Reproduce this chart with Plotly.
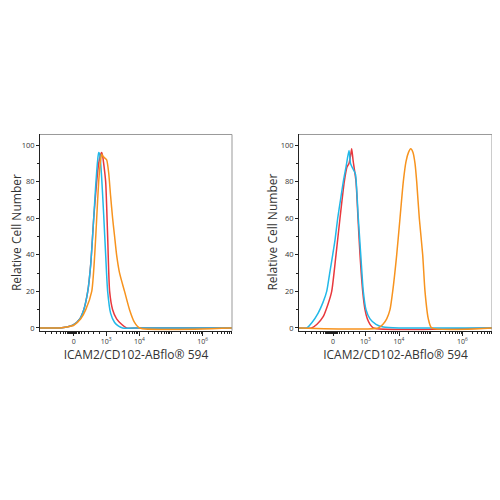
import plotly.graph_objects as go

# Display-space x coordinates (biexponential scale rendered linearly)
tick_pos = [34, 66.5, 100, 163.5]
tick_text = ["0", "10<sup>3</sup>", "10<sup>4</sup>", "10<sup>6</sup>"]
y_ticks = [0, 20, 40, 60, 80, 100]

# Left panel curves
L_red_x = [0, 20, 27, 33, 40, 44, 48, 51, 54, 57, 59, 61, 62, 63, 64, 66, 68, 70, 73, 77, 82, 87, 100, 193]
L_red_y = [0, 0, 0.5, 1.5, 5, 10, 20, 35, 60, 80, 90, 95, 96, 94, 90, 80, 50, 20, 10, 5, 2, 0, 0, 0]
L_cyan_x = [0, 20, 27, 33, 40, 44, 48, 51, 54, 56, 58, 59, 60, 61, 62, 64, 66, 68, 71, 75, 79, 83, 100, 193]
L_cyan_y = [0, 0, 0.5, 1.5, 5, 10, 20, 35, 60, 78, 92, 96, 95, 90, 82, 62, 40, 20, 8, 3, 1, 0, 0, 0]
L_orange_x = [0, 20, 27, 34, 41, 46, 52, 55, 57, 59, 61, 62, 63, 65, 67, 69, 71, 73, 75, 77, 80, 85, 90, 95, 100, 193]
L_orange_y = [0, 0, 0.5, 1.5, 5, 10, 20, 40, 60, 80, 92, 95, 94, 93, 92, 85, 72, 60, 50, 40, 30, 20, 10, 3, 0, 0]

# Right panel curves
R_red_x = [0, 12.7, 18, 24, 29, 32.7, 37, 41, 45.3, 48, 50, 51.5, 52.7, 54, 57, 59, 61, 63.7, 66, 68.3, 71, 74.3, 193]
R_red_y = [0, 0, 2, 6, 13, 20, 40, 60, 80, 88, 90, 94, 98, 92, 80, 60, 40, 20, 10, 5, 2, 0, 0]
R_cyan_x = [0, 7.7, 13, 19, 24, 27.7, 30.7, 33.7, 36, 38.7, 41.5, 44.3, 47, 50, 51.5, 53, 55, 56.5, 59.3, 62, 64.3, 67, 71, 77, 84.3, 100, 193]
R_cyan_y = [0, 0, 3, 8, 14, 20, 30, 40, 48, 60, 70, 80, 88, 97, 90, 88, 86, 84, 60, 38, 20, 10, 5, 2, 0.5, 0, 0]
R_orange_x = [0, 79.3, 84, 87.7, 91, 93.7, 97.7, 101, 104.3, 107, 109.5, 111.7, 114, 116, 117.7, 120.3, 123.7, 126, 129.3, 132.7, 193]
R_orange_y = [0, 0, 2, 5, 10, 20, 40, 60, 80, 91, 96, 98, 96, 90, 80, 60, 40, 20, 5, 0, 0]

RED = "#e8383d"
CYAN = "#22b8e8"
ORANGE = "#f7931e"

fig = go.Figure()
for xs, ys, c, ax in [
    (L_red_x, L_red_y, RED, "x"), (L_cyan_x, L_cyan_y, CYAN, "x"), (L_orange_x, L_orange_y, ORANGE, "x"),
    (R_red_x, R_red_y, RED, "x2"), (R_cyan_x, R_cyan_y, CYAN, "x2"), (R_orange_x, R_orange_y, ORANGE, "x2"),
]:
    fig.add_trace(go.Scatter(x=xs, y=ys, mode="lines", line=dict(color=c, width=1.5, shape="spline", smoothing=0.6),
                             xaxis=ax, yaxis="y" if ax == "x" else "y2", showlegend=False, hoverinfo="skip"))

minor_x = [6, 12, 17, 21, 24, 26, 27.5, 28.5, 29.5, 30.5, 31.5, 32.5, 33.3, 35, 36, 37, 38.5, 40, 42, 45, 49, 54, 60, 131.75]
for base, w in [(66.5, 33.5), (100, 31.75), (131.75, 31.75), (163.5, 31.75)]:
    for m in [0.30103, 0.47712, 0.60206, 0.69897, 0.77815, 0.84510, 0.90309, 0.95424]:
        p = base + m * w
        if p < 193:
            minor_x.append(round(p, 2))

font = "Open Sans, DejaVu Sans, sans-serif"
xcommon = dict(range=[0, 193], tickmode="array", tickvals=tick_pos, ticktext=tick_text,
               ticks="outside", ticklen=4, tickwidth=1, tickcolor="#222", showline=True, linecolor="#222",
               linewidth=1, showgrid=False, zeroline=False, tickfont=dict(size=7, color="#333", family=font),
               minor=dict(tickmode="array", tickvals=minor_x, ticks="outside", ticklen=2, tickcolor="#222"),
               title=dict(text="ICAM2/CD102-ABflo® 594", font=dict(size=12, color="#333", family=font), standoff=4))
ycommon = dict(range=[-1.5, 105.8], tickvals=y_ticks, ticks="outside", ticklen=3,
               tickcolor="#222", showline=True, linecolor="#222", linewidth=1, showgrid=False, zeroline=False,
               tickfont=dict(size=7.5, color="#333", family=font),
               minor=dict(dtick=10, ticks="outside", ticklen=2, tickcolor="#222"))

XD1 = [0.064, 0.448]
XD2 = [0.582, 0.968]
YD = [0.352, 0.746]
fig.update_layout(
    width=500, height=500, margin=dict(l=0, r=0, t=0, b=0),
    plot_bgcolor="white", paper_bgcolor="white",
    xaxis=dict(domain=XD1, anchor="y", **xcommon),
    yaxis=dict(domain=YD, anchor="x", **ycommon),
    xaxis2=dict(domain=XD2, anchor="y2", **xcommon),
    yaxis2=dict(domain=YD, anchor="x2", **ycommon),
)
for x0, x1 in [XD1, XD2]:
    fig.add_shape(type="line", xref="paper", yref="paper", x0=x0, x1=x1, y0=YD[1], y1=YD[1], line=dict(color="#999", width=1))
    fig.add_shape(type="line", xref="paper", yref="paper", x0=x1, x1=x1, y0=YD[0], y1=YD[1], line=dict(color="#999", width=1))
for xp in [0.017, 0.53]:
    fig.add_annotation(text="Relative Cell Number", xref="paper", yref="paper", x=xp, y=(YD[0] + YD[1]) / 2,
                       textangle=-90, showarrow=False, xanchor="center", yanchor="middle",
                       font=dict(size=12, color="#333", family=font))

fig.write_html("out.html")
